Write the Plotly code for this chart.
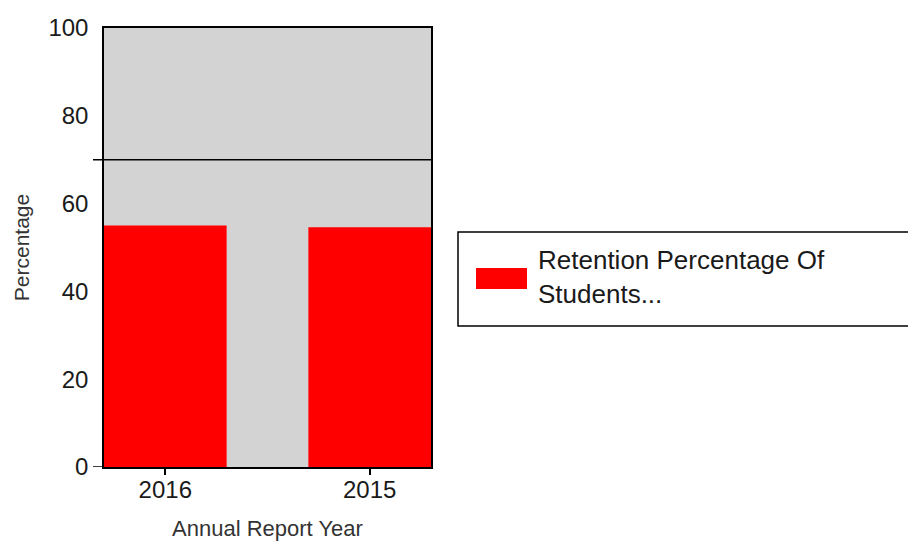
import plotly.graph_objects as go

categories = ["2016", "2015"]
retention = [55.0, 54.6]
target_value = 70
series_name = "Retention Percentage Of Students..."
legend_label = "Retention Percentage Of<br>Students..."
y_ticks = [0, 20, 40, 60, 80, 100]

W, H = 908, 541
L, R, T, B = 104, 477, 28, 74
pw = W - L - R
ph = H - T - B

def px_x(px):
    return (px - L) / pw

def px_y(py):
    return (H - B - py) / ph

FONT = "Liberation Sans, Arial, sans-serif"

fig = go.Figure()
fig.add_trace(go.Bar(
    x=categories, y=retention, name=series_name,
    marker=dict(color="#ff0000", line=dict(width=0)),
    width=0.6, showlegend=False,
))

fig.update_layout(
    width=W, height=H,
    margin=dict(l=L, r=R, t=T, b=B, pad=0, autoexpand=False),
    paper_bgcolor="white",
    plot_bgcolor="#d3d3d3",
    font=dict(family=FONT, color="#1a1a1a"),
    xaxis=dict(
        type="category", range=[-0.3, 1.3], automargin=False,
        showline=True, linecolor="black", linewidth=1.5, mirror=True,
        ticks="outside", ticklen=6, tickcolor="black", tickwidth=1.5,
        ticklabelstandoff=-6,
        tickfont=dict(size=24, family=FONT, color="#1a1a1a"),
        showgrid=False,
        title=dict(text="Annual Report Year", font=dict(size=22, family=FONT, color="#333333"), standoff=19),
    ),
    yaxis=dict(
        range=[0, 100], tickvals=y_ticks, automargin=False,
        showline=True, linecolor="black", linewidth=1.5, mirror=True,
        ticks="", ticklabelstandoff=9,
        tickfont=dict(size=24, family=FONT, color="#1a1a1a"),
        showgrid=False, zeroline=False,
        title=dict(text="Percentage", font=dict(size=21, family=FONT, color="#333333"), standoff=13),
    ),
)

# target line and baseline stub
fig.add_shape(type="line", xref="paper", yref="y", x0=px_x(93), x1=1, y0=target_value, y1=target_value,
              line=dict(color="black", width=1.5))
fig.add_shape(type="line", xref="paper", yref="y", x0=px_x(93), x1=0, y0=0, y1=0,
              line=dict(color="black", width=1.5))

# legend box
fig.add_shape(type="rect", xref="paper", yref="paper", x0=px_x(458), x1=px_x(915),
              y0=px_y(326), y1=px_y(232), line=dict(color="black", width=1.5), fillcolor="white")
fig.add_shape(type="rect", xref="paper", yref="paper", x0=px_x(476), x1=px_x(527),
              y0=px_y(289), y1=px_y(268), line=dict(width=0), fillcolor="#ff0000")
fig.add_annotation(xref="paper", yref="paper", x=px_x(536), y=px_y(277), xanchor="left", yanchor="middle",
                   text=legend_label, showarrow=False, align="left",
                   font=dict(size=26, family=FONT, color="#1a1a1a"))

fig.write_html("out.html", config={"displayModeBar": False},
               post_script="document.body.style.margin='0';document.body.style.overflow='hidden';")
